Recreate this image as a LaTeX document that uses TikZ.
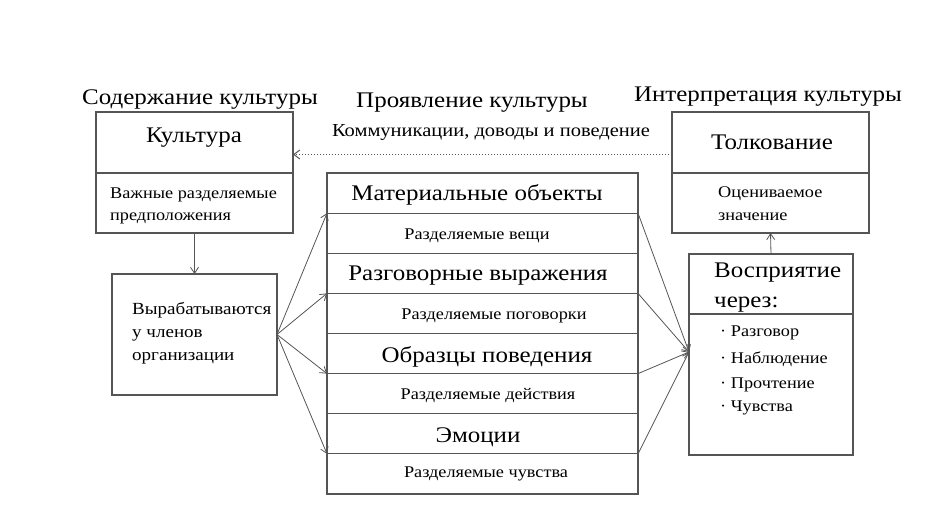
\documentclass[tikz,border=0pt]{standalone}
\usepackage{fontspec}
\setmainfont[FakeStretch=1.12]{Liberation Serif}
\usetikzlibrary{arrows.meta}
\definecolor{linegray}{RGB}{85,85,85}
\begin{document}
\begin{tikzpicture}[x=1pt,y=-1pt,
  box/.style={draw=linegray, line width=1.1pt, inner sep=0pt, outer sep=0pt},
  divider/.style={draw=linegray, line width=1.1pt},
  conn/.style={draw=linegray, line width=0.8pt, -{Straight Barb[length=6pt,width=8pt]}},
  plain/.style={draw=linegray, line width=0.8pt},
  dotconn/.style={draw=linegray, line width=1pt, dotted, -{Straight Barb[length=6pt,width=9pt]}},
  title/.style={font=\fontsize{22.3}{24}\selectfont, inner sep=0pt},
  big/.style={font=\fontsize{22.3}{24}\selectfont, inner sep=0pt},
  small/.style={font=\fontsize{16.3}{18}\selectfont, inner sep=0pt},
  lefttext/.style={font=\fontsize{16.3}{22}\selectfont, inner sep=0pt, anchor=west, align=left},
  row/.style={box, minimum width=311pt, minimum height=40.125pt}]
\useasboundingbox (0,0) rectangle (928,526);

% titles
\node[title] (t1) at (200,100) {Содержание культуры};
\node[title] (t2) at (472,103) {Проявление культуры};
\node[title] (t3) at (768,97) {Интерпретация культуры};
\node[font=\fontsize{18.3}{20}\selectfont, inner sep=0pt] (comm) at (491,132) {Коммуникации, доводы и поведение};

% Culture box
\node[box, minimum width=197pt, minimum height=121pt] (kult) at (194.5,172.5) {};
\draw[divider] (kult.west |- 0,173) -- (kult.east |- 0,173);
\node[big] (kultT) at (194,138) {Культура};
\node[lefttext] (kultS) at (110,206) {Важные разделяемые\\предположения};

% Developed box
\node[box, minimum width=165pt, minimum height=121pt] (vyr) at (194.5,334.5) {};
\node[font=\fontsize{17}{23}\selectfont, inner sep=0pt, anchor=west, align=left] (vyrT) at (132,333) {Вырабатываются\\у членов\\организации};

% Interpretation box
\node[box, minimum width=197pt, minimum height=121pt] (tolk) at (770.5,172.5) {};
\draw[divider] (tolk.west |- 0,173) -- (tolk.east |- 0,173);
\node[big] (tolkT) at (772,142) {Толкование};
\node[lefttext, font=\fontsize{16.3}{23}\selectfont] (tolkS) at (718,203.5) {Оцениваемое\\значение};

% Perception box
\node[box, minimum width=164pt, minimum height=201pt] (vos) at (771,354.5) {};
\draw[divider] (vos.west |- 0,314) -- (vos.east |- 0,314);
\node[lefttext, font=\fontsize{22.3}{30}\selectfont] (vosT) at (714,288) {Восприятие\\через:};
\node[lefttext] (b1) at (720,333) {· Разговор};
\node[lefttext] (b2) at (720,359) {· Наблюдение};
\node[lefttext] (b3) at (720,385) {· Прочтение};
\node[lefttext] (b4) at (720,408) {· Чувства};

% middle stack
\node[row] (r1) at (482.5,193.06) {};
\node[row] (r2) at (482.5,233.19) {};
\node[row] (r3) at (482.5,273.31) {};
\node[row] (r4) at (482.5,313.44) {};
\node[row] (r5) at (482.5,353.56) {};
\node[row] (r6) at (482.5,393.69) {};
\node[row] (r7) at (482.5,433.81) {};
\node[row] (r8) at (482.5,473.94) {};
\node[big] (r1t) at (477,195) {Материальные объекты};
\node[small] (r2t) at (477,236) {Разделяемые вещи};
\node[big] (r3t) at (478,276) {Разговорные выражения};
\node[small] (r4t) at (494,316) {Разделяемые поговорки};
\node[big] (r5t) at (487,357) {Образцы поведения};
\node[small] (r6t) at (488,395) {Разделяемые действия};
\node[big] (r7t) at (478,437) {Эмоции};
\node[small] (r8t) at (486,474) {Разделяемые чувства};

% connectors
\draw[conn] (kult.south) -- (vyr.north);
\draw[conn] (vos.north) -- (tolk.south);
\draw[dotconn] ([yshift=18pt]tolk.west) -- ([yshift=18pt]kult.east);
\draw[conn] (vyr.east) -- (r1.south west);
\draw[conn] (vyr.east) -- (r3.south west);
\draw[conn] (vyr.east) -- (r5.south west);
\draw[conn] (vyr.east) -- (r7.south west);
\coordinate (vin) at ([yshift=2.5pt]vos.west);
\draw[conn] (r1.south east) -- (vin);
\draw[conn] (r3.south east) -- (vin);
\draw[conn] (r5.south east) -- (vin);
\draw[conn] (r7.south east) -- (vin);
\end{tikzpicture}
\end{document}
